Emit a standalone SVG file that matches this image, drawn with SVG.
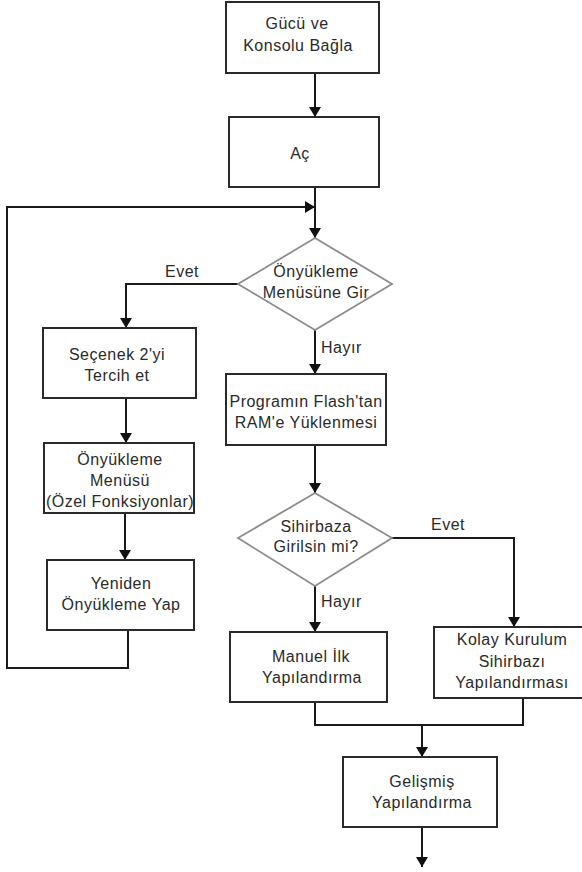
<svg xmlns="http://www.w3.org/2000/svg" width="582" height="872" viewBox="0 0 582 872">
<defs>
<marker id="ah" viewBox="0 0 10 12" refX="10" refY="6" markerWidth="10" markerHeight="12" markerUnits="userSpaceOnUse" orient="auto">
<path d="M0,0 L10,6 L0,12 z" fill="#111"/>
</marker>
</defs>
<style>
.box{fill:#fff;stroke:#2a2a2a;stroke-width:2}
.dia{fill:#fff;stroke:#8c8c8c;stroke-width:1.8}
.c{fill:none;stroke:#1a1a1a;stroke-width:2}
.t{font-family:"Liberation Sans",Arial,sans-serif;font-size:16px;letter-spacing:0.5px;fill:#2a2a2a;text-anchor:middle}
.l{font-family:"Liberation Sans",Arial,sans-serif;font-size:16px;letter-spacing:0.5px;fill:#2a2a2a}
</style>
<rect width="582" height="872" fill="#fff"/>
<g id="connectors">
<path class="c" d="M315,73 V117" marker-end="url(#ah)"/>
<path class="c" d="M315,187 V238" marker-end="url(#ah)"/>
<path class="c" d="M128,630 V668 H7 V207 H315" marker-end="url(#ah)"/>
<path class="c" d="M238,284 H126 V328" marker-end="url(#ah)"/>
<path class="c" d="M315,330 V374" marker-end="url(#ah)"/>
<path class="c" d="M126,398 V443" marker-end="url(#ah)"/>
<path class="c" d="M125,513 V560" marker-end="url(#ah)"/>
<path class="c" d="M315,445 V493" marker-end="url(#ah)"/>
<path class="c" d="M392,538 H514 V627" marker-end="url(#ah)"/>
<path class="c" d="M315,586 V632" marker-end="url(#ah)"/>
<path class="c" d="M315,702 V725 H523 V698"/>
<path class="c" d="M422,725 V757" marker-end="url(#ah)"/>
<path class="c" d="M422,827 V867" marker-end="url(#ah)"/>
<text class="l" x="165" y="277">Evet</text>
<text class="l" x="321" y="353">Hayır</text>
<text class="l" x="431" y="530">Evet</text>
<text class="l" x="321" y="607">Hayır</text>
</g>
<g id="n1"><rect class="box" x="226" y="2" width="153" height="71"/>
<text class="t" x="297" y="29">Gücü ve</text><text class="t" x="298" y="51">Konsolu Bağla</text></g>
<g id="n2"><rect class="box" x="229" y="117" width="150" height="70"/>
<text class="t" x="300" y="159">Aç</text></g>
<g id="d1"><polygon class="dia" points="315,238 392,284 315,330 238,284"/>
<text class="t" x="316" y="277">Önyükleme</text><text class="t" x="316" y="298">Menüsüne Gir</text></g>
<g id="n3"><rect class="box" x="43" y="328" width="153" height="70"/>
<text class="t" x="117" y="360">Seçenek 2'yi</text><text class="t" x="117" y="381">Tercih et</text></g>
<g id="n4"><rect class="box" x="226" y="374" width="160" height="71"/>
<text class="t" x="306" y="407">Programın Flash'tan</text><text class="t" x="306" y="428">RAM'e Yüklenmesi</text></g>
<g id="n5"><rect class="box" x="44" y="443" width="150" height="70"/>
<text class="t" x="120" y="465">Önyükleme</text><text class="t" x="120" y="486">Menüsü</text><text class="t" x="120" y="507">(Özel Fonksiyonlar)</text></g>
<g id="d2"><polygon class="dia" points="315,493 392,538 315,586 238,538"/>
<text class="t" x="316" y="532">Sihirbaza</text><text class="t" x="316" y="552">Girilsin mi?</text></g>
<g id="n6"><rect class="box" x="47" y="560" width="147" height="70"/>
<text class="t" x="121" y="589">Yeniden</text><text class="t" x="121" y="610">Önyükleme Yap</text></g>
<g id="n7"><rect class="box" x="230" y="632" width="157" height="70"/>
<text class="t" x="311" y="662">Manuel İlk</text><text class="t" x="312" y="683">Yapılandırma</text></g>
<g id="n8"><rect class="box" x="434" y="627" width="152" height="71"/>
<text class="t" x="512" y="645">Kolay Kurulum</text><text class="t" x="512" y="667">Sihirbazı</text><text class="t" x="512" y="688">Yapılandırması</text></g>
<g id="n9"><rect class="box" x="343" y="757" width="154" height="70"/>
<text class="t" x="422" y="787">Gelişmiş</text><text class="t" x="422" y="808">Yapılandırma</text></g>
</svg>
